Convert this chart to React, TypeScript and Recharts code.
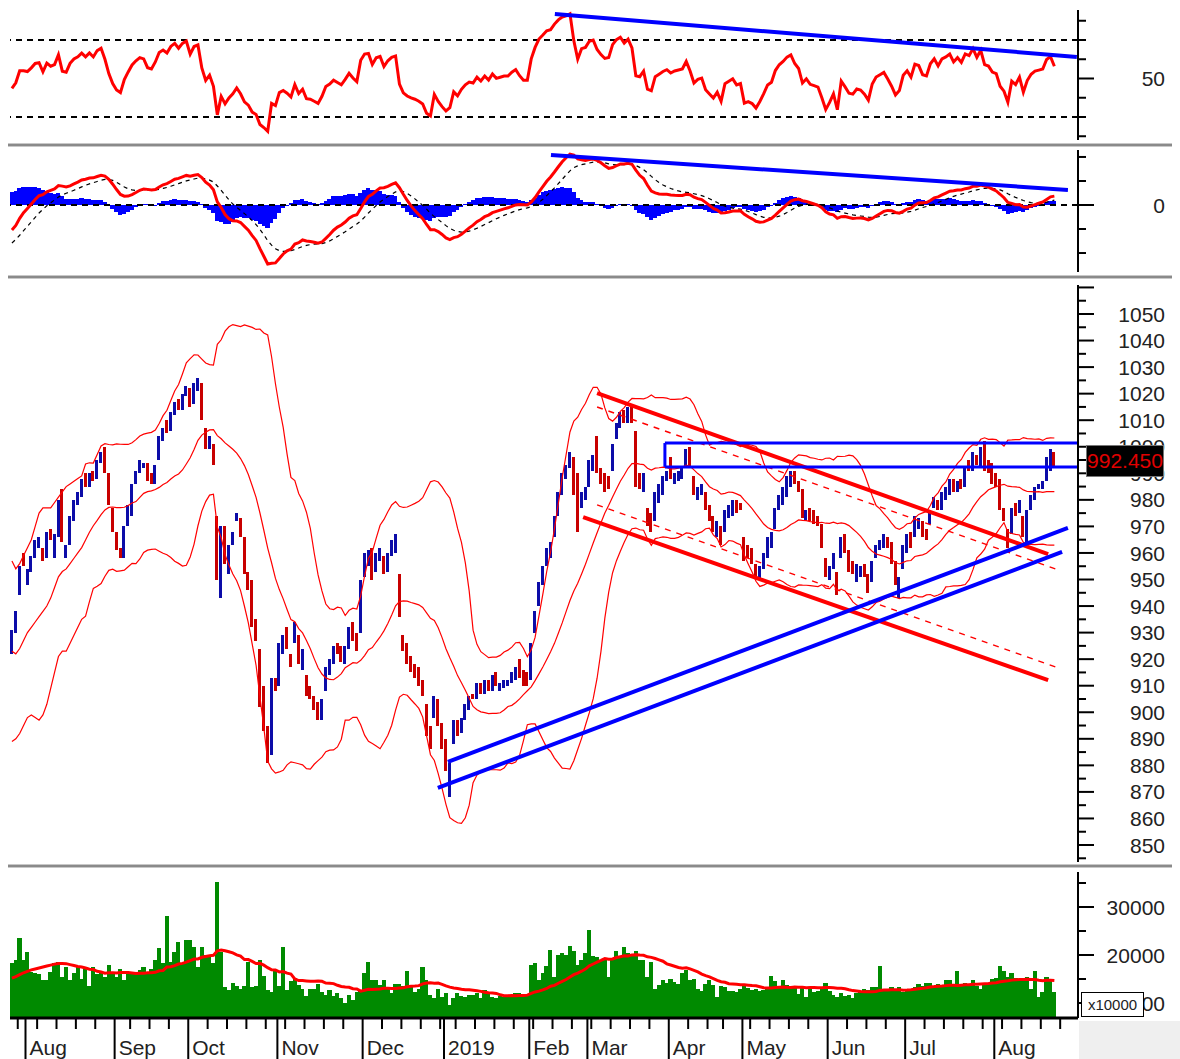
import React from "react";
import { Bar, Cell, ComposedChart, Line, ReferenceLine, XAxis, YAxis } from "recharts";

// daily candles, 26 Jul 2018 .. 22 Aug 2019
const opens = [
  922, 930, 944, 960, 948, 953, 958, 962, 962, 958,
  969, 958, 966, 984, 958, 963, 972, 978, 981, 990,
  985, 991, 988, 994, 1000, 990, 977, 968, 962, 958,
  970, 974, 986, 990, 992, 994, 990, 986, 995, 1002,
  1010, 1006, 1012, 1018, 1014, 1019, 1022, 1016, 1021, 1024,
  1007, 999, 1001, 974, 943, 970, 952, 963, 972, 973,
  966, 953, 950, 935, 924, 910, 895, 884, 913, 910,
  922, 932, 922, 926, 929, 916, 914, 910, 906, 904,
  897, 908, 914, 918, 926, 925, 918, 924, 934, 930,
  930, 951, 955, 962, 953, 957, 959, 953, 959, 960,
  952, 929, 926, 921, 918, 917, 912, 903, 895, 898,
  905, 896, 890, 868, 888, 897, 892, 897, 901, 907,
  905, 911, 907, 912, 908, 915, 908, 909, 910, 911,
  912, 920, 916, 915, 912, 930, 940, 948, 955, 958,
  966, 974, 982, 988, 992, 996, 990, 977, 980, 985,
  991, 1004, 992, 990, 989, 991, 1003, 1007, 1014, 1009,
  1016, 1006, 990, 983, 977, 975, 972, 979, 982, 987,
  996, 986, 987, 988, 992, 1000, 989, 980, 982, 983,
  978, 974, 966, 970, 968, 973, 974, 980, 979, 966,
  963, 962, 956, 950, 954, 958, 962, 969, 976, 978,
  981, 985, 991, 987, 984, 972, 977, 976, 974, 971,
  958, 950, 954, 953, 958, 967, 961, 957, 949, 951,
  956, 952, 949, 958, 961, 962, 966, 964, 957, 943,
  954, 960, 968, 966, 969, 972, 969, 971, 977, 980,
  976, 980, 982, 988, 983, 988, 985, 995, 991, 997,
  992, 1002, 995, 994, 990, 988, 977, 969, 967, 979,
  975, 974, 962, 976, 980, 984, 984, 987, 991, 998,
];

const closes = [
  931, 938, 955, 955, 954, 959, 965, 966, 957, 968,
  965, 967, 980, 964, 963, 974, 980, 983, 988, 985,
  990, 987, 995, 998, 990, 978, 968, 961, 958, 970,
  978, 986, 991, 995, 994, 987, 986, 993, 1004, 1007,
  1005, 1013, 1017, 1014, 1020, 1023, 1015, 1024, 1026, 1010,
  999, 1004, 993, 950, 970, 956, 963, 968, 975, 966,
  952, 946, 932, 927, 902, 893, 881, 913, 908, 926,
  929, 924, 917, 934, 918, 924, 906, 905, 901, 897,
  905, 917, 920, 925, 922, 919, 925, 932, 927, 923,
  950, 960, 961, 950, 960, 962, 952, 960, 965, 967,
  936, 923, 918, 915, 913, 910, 906, 891, 886, 906,
  895, 886, 878, 881, 897, 891, 898, 903, 906, 905,
  911, 907, 912, 908, 914, 910, 911, 912, 912, 915,
  917, 913, 910, 910, 926, 938, 949, 955, 962, 964,
  974, 983, 990, 993, 998, 982, 968, 983, 985, 995,
  997, 990, 986, 983, 984, 1001, 1009, 1013, 1009, 1015,
  1009, 985, 984, 990, 970, 968, 983, 986, 989, 991,
  988, 990, 991, 992, 999, 992, 982, 985, 986, 976,
  972, 968, 972, 963, 976, 978, 980, 975, 976, 957,
  958, 956, 951, 955, 960, 966, 968, 977, 982, 985,
  989, 991, 986, 983, 973, 976, 972, 971, 970, 962,
  951, 955, 960, 944, 966, 960, 953, 952, 956, 955,
  951, 945, 957, 963, 965, 967, 962, 956, 948, 951,
  963, 967, 962, 974, 973, 966, 965, 976, 981, 976,
  983, 985, 988, 983, 987, 984, 992, 991, 998, 993,
  1000, 991, 990, 986, 985, 976, 972, 962, 977, 974,
  980, 966, 976, 982, 985, 986, 987, 996, 999, 992.45,
];

// volume in units of 10000
const volumes = [
  18300, 19000, 23500, 19000, 20600, 16500, 16300, 16000, 14800, 14800,
  16500, 18300, 18600, 15500, 17500, 14800, 16300, 17500, 15000, 17000,
  13500, 17500, 16000, 16300, 15500, 18000, 16300, 15500, 17000, 14800,
  16300, 16500, 16300, 16800, 17500, 16000, 17000, 19000, 21500, 18300,
  28100, 18600, 20600, 22700, 18300, 23100, 23100, 21600, 17500, 21600,
  20000, 19500, 18300, 35200, 20600, 13300, 12700, 14200, 13500, 13000,
  13500, 18600, 13300, 13500, 19000, 15700, 12700, 12300, 17000, 13500,
  21600, 12700, 14500, 15200, 13800, 13000, 11500, 13000, 13000, 14000,
  12300, 11700, 12700, 11500, 12000, 11000, 10000, 11700, 10700, 12300,
  12700, 16300, 18600, 14700, 14700, 13800, 14700, 13000, 12000, 14000,
  14000, 13500, 16600, 13800, 12300, 13000, 17500, 14700, 11700, 11000,
  13000, 11200, 12000, 9500, 11000, 12000, 11500, 11200, 11700, 11700,
  12000, 11000, 12800, 12300, 11200, 11000, 11500, 11300, 11700, 11700,
  12000, 12000, 11700, 11500, 18000, 18300, 14700, 16300, 17800, 21000,
  15500, 20000, 20500, 20000, 21900, 20800, 18000, 19000, 20500, 25200,
  19800, 19500, 19000, 19300, 15500, 19000, 20800, 19800, 21600, 20500,
  19800, 20800, 19000, 19000, 15500, 18600, 13000, 13700, 14700, 14200,
  15000, 14300, 14000, 16300, 16800, 14700, 15000, 13000, 12500, 14000,
  14700, 13700, 11200, 13500, 13300, 12500, 12500, 12300, 13000, 13500,
  13200, 12800, 13000, 12500, 12800, 13300, 15700, 14500, 13500, 14700,
  13700, 13300, 13300, 11800, 13300, 11200, 13000, 12300, 12500, 13300,
  14200, 12500, 11700, 11200, 12000, 11500, 11700, 11000, 12000, 12300,
  13000, 12800, 13300, 13300, 17700, 12700, 13000, 13300, 12800, 13300,
  12300, 13000, 13000, 13300, 14000, 13500, 14200, 14200, 13300, 14000,
  13500, 14700, 14700, 13800, 16700, 13800, 14200, 14000, 14700, 13500,
  13000, 14000, 14200, 15000, 15300, 17700, 16700, 15500, 16300, 15300,
  14500, 14800, 15500, 13000, 16700, 11200, 12300, 15500, 14700, 12300,
];

// indicator values at the left edge (window not yet full)
const bbUpperHead = [957, 954, 956, 959, 962, 965, 970, 975, 977, 977, 977, 979, 981, 983, 985, 986, 987, 988, 989];
const bbMidHead = [923, 922, 924, 927, 930, 932, 934, 936, 938, 940, 943, 947, 951, 953, 954, 956, 958, 960, 962];
const bbLowerHead = [889, 890, 892, 895, 898, 899, 898, 897, 899, 903, 909, 915, 921, 923, 923, 926, 929, 932, 935];
const volMaHead = [15200, 15500, 15900, 16300, 16600, 16900, 17100, 17300, 17500, 17700, 17900, 18100, 18250, 18250, 18200, 18000, 17800, 17600, 17500];
const rsiSeed = { gain: 4.4, loss: 5.4 };
const macdSeed = { ema12: 924, ema26: 934.4, signal: -15.8 };

const holidays = [
  "2018-09-03", "2019-01-01", "2019-02-04", "2019-02-05", "2019-02-06", "2019-02-07",
  "2019-02-08", "2019-04-15", "2019-04-29", "2019-04-30", "2019-05-01",
];
const monthNames = ["2019", "Feb", "Mar", "Apr", "May", "Jun", "Jul", "Aug", "Sep", "Oct", "Nov", "Dec"];

const priceTicks = [
  845, 850, 855, 860, 865, 870, 875, 880, 885, 890, 895, 900, 905, 910, 915, 920, 925, 930,
  935, 940, 945, 950, 955, 960, 965, 970, 975, 980, 985, 990, 995, 1000, 1005, 1010, 1015,
  1020, 1025, 1030, 1035, 1040, 1045, 1050, 1055, 1060,
];
const priceLabels = [
  850, 860, 870, 880, 890, 900, 910, 920, 930, 940, 950, 960, 970, 980, 990, 1000, 1010,
  1020, 1030, 1040, 1050,
];
const rsiTicks = [20, 30, 40, 50, 60, 70, 80];
const macdTicks = [-20, -10, 0, 10, 20];
const volTicks = [10000, 15000, 20000, 25000, 30000, 35000];
const volLabels = [10000, 20000, 30000];

// drawn trend lines (bar index, value)
const rsiTrend = [{ x: 140.1, y: 83.5 }, { x: 274.8, y: 61.2 }];
const macdTrend = [{ x: 139.1, y: 20.8 }, { x: 272.5, y: 6.25 }];
const channelTop = [{ x: 151, y: 1020.2 }, { x: 267.4, y: 959.6 }];
const channelBottom = [{ x: 147.4, y: 973.5 }, { x: 267.4, y: 912.1 }];
const channelTopDash = [{ x: 151, y: 1015 }, { x: 270, y: 953.6 }];
const channelBottomDash = [{ x: 151, y: 978.1 }, { x: 270, y: 916.7 }];
const supportTop = [{ x: 112.5, y: 881.3 }, { x: 272.5, y: 969.4 }];
const supportBottom = [{ x: 109.9, y: 871.5 }, { x: 271, y: 960.4 }];
const zoneLeft = 168.5;
const zoneHigh = 1001.4;
const zoneLow = 992.4;

const N = closes.length;
const X_DOMAIN: [number, number] = [-0.5, 275.1];
const AXIS_W = 102;
const RED = "#ff0000";
const BLUE = "#0000ff";
const CANDLE_UP = "#0c0ca8";
const CANDLE_DOWN = "#c80000";
const font = { fontFamily: "'Liberation Sans', Arial, sans-serif", fontSize: 21, fill: "#222" };

const mean = (a: number[]) => a.reduce((s, v) => s + v, 0) / a.length;

// trading calendar for the x axis
const dates: Date[] = [];
{
  const d = new Date(Date.UTC(2018, 6, 26));
  while (dates.length < 276) {
    const wd = d.getUTCDay();
    const key = d.toISOString().slice(0, 10);
    if (wd !== 0 && wd !== 6 && !holidays.includes(key)) dates.push(new Date(d));
    d.setUTCDate(d.getUTCDate() + 1);
  }
}
const bottomTicks: number[] = [];
const monthLabel = new Map<number, string>();
for (let i = 1; i < dates.length; i++) {
  const newMonth = dates[i].getUTCMonth() !== dates[i - 1].getUTCMonth();
  const newWeek = dates[i].getUTCDay() < dates[i - 1].getUTCDay();
  if (newMonth || newWeek) bottomTicks.push(i - 0.5);
  if (newMonth) monthLabel.set(i - 0.5, monthNames[dates[i].getUTCMonth()]);
}

// indicators
const rows: any[] = [];
let ag = rsiSeed.gain;
let al = rsiSeed.loss;
let e12 = macdSeed.ema12;
let e26 = macdSeed.ema26;
let sig = macdSeed.signal;
for (let i = 0; i < N; i++) {
  const c = closes[i];
  const o = opens[i];
  if (i > 0) {
    const ch = c - closes[i - 1];
    ag = (ag * 13 + Math.max(ch, 0)) / 14;
    al = (al * 13 + Math.max(-ch, 0)) / 14;
    e12 += ((c - e12) * 2) / 13;
    e26 += ((c - e26) * 2) / 27;
    sig += (e12 - e26 - sig) * 0.2;
  }
  const macd = e12 - e26;
  let bbU, bbM, bbL, volMa;
  if (i < 19) {
    bbU = bbUpperHead[i];
    bbM = bbMidHead[i];
    bbL = bbLowerHead[i];
    volMa = volMaHead[i];
  } else {
    const w = closes.slice(i - 19, i + 1);
    const m = mean(w);
    const sd = Math.sqrt(mean(w.map((v) => (v - m) ** 2)));
    bbU = m + 2 * sd;
    bbM = m;
    bbL = m - 2 * sd;
    volMa = mean(volumes.slice(i - 19, i + 1));
  }
  rows.push({
    i,
    o,
    c,
    body: [Math.min(o, c), Math.max(o, c)],
    bbU,
    bbM,
    bbL,
    rsi: 100 - 100 / (1 + ag / al),
    macd,
    sig,
    hist: macd - sig,
    vol: volumes[i],
    volMa,
  });
}

function rightTick(majors: number[], labels: number[]) {
  return (p: any) => {
    const v = p.payload.value;
    return (
      <g>
        <line x1={p.x} x2={p.x + (majors.includes(v) ? 16 : 8)} y1={p.y} y2={p.y} stroke="#000" strokeWidth={2} />
        {labels.includes(v) && (
          <text x={p.x + 87} y={p.y} dy="0.36em" textAnchor="end" style={font}>
            {v}
          </text>
        )}
      </g>
    );
  };
}

function BottomTick(p: any) {
  const v = p.payload.value;
  const lab = monthLabel.get(v);
  if (lab !== undefined) {
    return (
      <g>
        <line x1={p.x} x2={p.x} y1={p.y} y2={p.y + 42} stroke="#000" strokeWidth={2} />
        <text x={p.x + 4} y={p.y + 37} style={font}>
          {lab}
        </text>
      </g>
    );
  }
  return <line x1={p.x} x2={p.x} y1={p.y} y2={p.y + 11} stroke="#000" strokeWidth={2} />;
}

// bars drawn at a fixed pixel width around the slot centre, so neighbours touch
function fixedBar(w: number) {
  return (p: any) => {
    if (p.x == null || p.y == null) return <g />;
    const cx = p.x + p.width / 2;
    const y = p.height < 0 ? p.y + p.height : p.y;
    const h = Math.max(1, Math.abs(p.height || 0));
    return <rect x={cx - w / 2} y={y} width={w} height={h} fill={p.fill} shapeRendering="crispEdges" />;
  };
}

const hiddenX = <XAxis type="number" dataKey="i" domain={X_DOMAIN} allowDataOverflow hide />;
const margin = { top: 0, right: 0, bottom: 0, left: 10 };
const axisLine = { stroke: "#000", strokeWidth: 2 };

function Separator({ top }: { top: number }) {
  return (
    <div
      style={{
        position: "absolute",
        left: 8,
        top,
        width: 1164,
        height: 2,
        background: "#8a8a8a",
        borderTop: "1px solid #c8c8c8",
        borderBottom: "1px solid #c8c8c8",
      }}
    />
  );
}

export default function App() {
  return (
    <div style={{ position: "absolute", left: 0, top: 0, width: 1180, height: 1059, background: "#fff", overflow: "hidden" }}>
      {/* RSI */}
      <div style={{ position: "absolute", left: 0, top: 10 }}>
        <ComposedChart width={1180} height={130} data={rows} margin={margin}>
          {hiddenX}
          <YAxis
            orientation="right"
            width={AXIS_W}
            domain={[18.05, 85.58]}
            allowDataOverflow
            ticks={rsiTicks}
            interval={0}
            tickSize={0}
            tickMargin={0}
            tickLine={false}
            axisLine={axisLine}
            tick={rightTick([50], [50])}
          />
          <ReferenceLine y={70} stroke="#000" strokeWidth={2} strokeDasharray="6 5" />
          <ReferenceLine y={30} stroke="#000" strokeWidth={2} strokeDasharray="6 5" />
          <Line dataKey="rsi" stroke={RED} strokeWidth={3} dot={false} isAnimationActive={false} />
          <ReferenceLine segment={rsiTrend} stroke={BLUE} strokeWidth={4} ifOverflow="visible" />
        </ComposedChart>
      </div>
      <Separator top={143} />

      {/* MACD */}
      <div style={{ position: "absolute", left: 0, top: 150 }}>
        <ComposedChart width={1180} height={122} data={rows} margin={margin}>
          {hiddenX}
          <YAxis
            orientation="right"
            width={AXIS_W}
            domain={[-27.9, 22.9]}
            allowDataOverflow
            ticks={macdTicks}
            interval={0}
            tickSize={0}
            tickMargin={0}
            tickLine={false}
            axisLine={axisLine}
            tick={rightTick([0], [0])}
          />
          <Bar dataKey="hist" fill={BLUE} barSize={4} shape={fixedBar(4.2)} isAnimationActive={false} />
          <ReferenceLine y={0} stroke="#000" strokeWidth={2} strokeDasharray="6 5" />
          <Line dataKey="sig" stroke="#000" strokeWidth={1.2} strokeDasharray="4 4" dot={false} isAnimationActive={false} />
          <Line dataKey="macd" stroke={RED} strokeWidth={3} dot={false} isAnimationActive={false} />
          <ReferenceLine segment={macdTrend} stroke={BLUE} strokeWidth={4} ifOverflow="visible" />
        </ComposedChart>
      </div>
      <Separator top={275} />

      {/* price */}
      <div style={{ position: "absolute", left: 0, top: 285 }}>
        <ComposedChart width={1180} height={577} data={rows} margin={margin}>
          {hiddenX}
          <YAxis
            orientation="right"
            width={AXIS_W}
            domain={[843.6, 1060.92]}
            allowDataOverflow
            ticks={priceTicks}
            interval={0}
            tickSize={0}
            tickMargin={0}
            tickLine={false}
            axisLine={axisLine}
            tick={rightTick(priceTicks.filter((t) => t % 10 === 0), priceLabels)}
          />
          <Line dataKey="bbU" stroke={RED} strokeWidth={1.2} dot={false} isAnimationActive={false} />
          <Line dataKey="bbM" stroke={RED} strokeWidth={1.2} dot={false} isAnimationActive={false} />
          <Line dataKey="bbL" stroke={RED} strokeWidth={1.2} dot={false} isAnimationActive={false} />
          <Bar dataKey="body" barSize={3} shape={fixedBar(3)} isAnimationActive={false}>
            {rows.map((r) => (
              <Cell key={r.i} fill={r.c >= r.o ? CANDLE_UP : CANDLE_DOWN} />
            ))}
          </Bar>
          <ReferenceLine segment={channelTopDash} stroke={RED} strokeWidth={1.5} strokeDasharray="6 6" ifOverflow="visible" />
          <ReferenceLine segment={channelBottomDash} stroke={RED} strokeWidth={1.5} strokeDasharray="6 6" ifOverflow="visible" />
          <ReferenceLine segment={channelTop} stroke={RED} strokeWidth={4} ifOverflow="visible" />
          <ReferenceLine segment={channelBottom} stroke={RED} strokeWidth={4} ifOverflow="visible" />
          <ReferenceLine segment={supportTop} stroke={BLUE} strokeWidth={4} ifOverflow="visible" />
          <ReferenceLine segment={supportBottom} stroke={BLUE} strokeWidth={4} ifOverflow="visible" />
          <ReferenceLine segment={[{ x: zoneLeft, y: zoneHigh }, { x: X_DOMAIN[1], y: zoneHigh }]} stroke={BLUE} strokeWidth={3} ifOverflow="visible" />
          <ReferenceLine segment={[{ x: zoneLeft, y: zoneLow }, { x: X_DOMAIN[1], y: zoneLow }]} stroke={BLUE} strokeWidth={3} ifOverflow="visible" />
          <ReferenceLine segment={[{ x: zoneLeft, y: zoneLow }, { x: zoneLeft, y: zoneHigh }]} stroke={BLUE} strokeWidth={3} ifOverflow="visible" />
        </ComposedChart>
      </div>
      <div
        style={{
          position: "absolute",
          left: 1086,
          top: 445,
          width: 76,
          height: 30,
          background: "#000",
          border: "1px solid #777",
          color: "#e00000",
          fontFamily: "'Liberation Sans', Arial, sans-serif",
          fontSize: 21,
          lineHeight: "30px",
          textAlign: "center",
        }}
      >
        {closes[N - 1].toFixed(3)}
      </div>
      <Separator top={864} />

      {/* volume + date axis */}
      <div style={{ position: "absolute", left: 0, top: 872 }}>
        <ComposedChart width={1180} height={187} data={rows} margin={margin}>
          <XAxis
            type="number"
            dataKey="i"
            domain={X_DOMAIN}
            allowDataOverflow
            ticks={bottomTicks}
            interval={0}
            tickSize={0}
            tickMargin={0}
            tickLine={false}
            axisLine={{ stroke: "#000", strokeWidth: 3 }}
            height={41}
            tick={BottomTick}
          />
          <YAxis
            orientation="right"
            width={AXIS_W}
            domain={[6875, 37292]}
            allowDataOverflow
            ticks={volTicks}
            interval={0}
            tickSize={0}
            tickMargin={0}
            tickLine={false}
            axisLine={axisLine}
            tick={rightTick(volLabels, volLabels)}
          />
          <Bar dataKey="vol" fill="#008a00" barSize={4} shape={fixedBar(4.2)} isAnimationActive={false} />
          <Line dataKey="volMa" stroke={RED} strokeWidth={3} dot={false} isAnimationActive={false} />
        </ComposedChart>
      </div>
      <div
        style={{
          position: "absolute",
          left: 1081,
          top: 992,
          width: 61,
          height: 23,
          background: "#fff",
          border: "1px solid #000",
          fontFamily: "'Liberation Sans', Arial, sans-serif",
          fontSize: 15,
          lineHeight: "23px",
          color: "#222",
          textAlign: "center",
        }}
      >
        x10000
      </div>
      <div style={{ position: "absolute", left: 1079, top: 1021, width: 101, height: 38, background: "#efefef" }} />
    </div>
  );
}
